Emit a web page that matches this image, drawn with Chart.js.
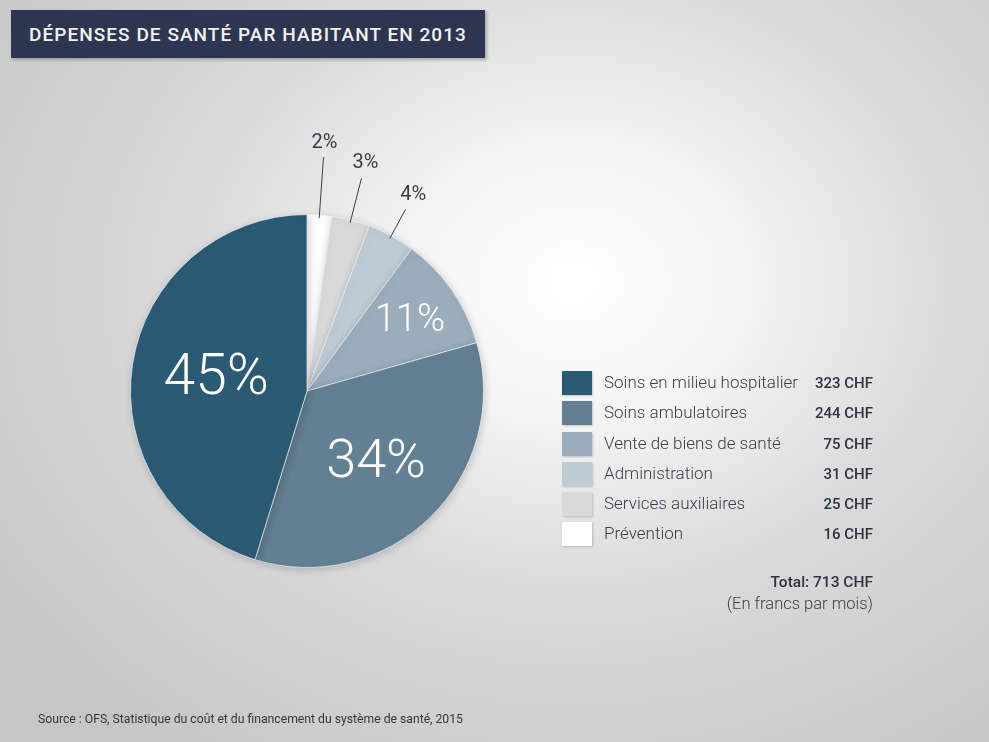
<!DOCTYPE html>
<html lang="fr">
<head>
<meta charset="utf-8">
<title>Dépenses de santé par habitant en 2013</title>
<script src="https://cdn.jsdelivr.net/npm/chart.js@4.4.1/dist/chart.umd.min.js"></script>
<style>
    html, body {
        margin: 0;
        padding: 0;
    }
    body {
        width: 989px;
        height: 742px;
        position: relative;
        overflow: hidden;
        font-family: Roboto, "Noto Sans", sans-serif;
        background: radial-gradient(ellipse 72% 78% at 58% 38%, #ffffff 0%, #f4f4f4 24%, #dbdbdb 52%, #c6c6c6 100%);
    }
    .title-bar {
        position: absolute;
        left: 11px;
        top: 10px;
        width: 474px;
        height: 48px;
        background: #2e3550;
        box-shadow: 2px 2px 3px rgba(0, 0, 0, 0.25);
    }
    .title-bar span {
        position: absolute;
        left: 18px;
        top: 13px;
        color: #f2f2f2;
        font-size: 19px;
        font-weight: 500;
        letter-spacing: 1.05px;
        white-space: nowrap;
    }
    #pieChart {
        position: absolute;
        left: 0;
        top: 0;
    }
    .legend {
        position: absolute;
        left: 562px;
        top: 371px;
        width: 311px;
    }
    .legend-row {
        position: relative;
        height: 30.3px;
    }
    .legend-swatch {
        position: absolute;
        left: 0;
        top: 0;
        width: 30px;
        height: 24px;
        box-shadow: 1px 1px 2px rgba(0, 0, 0, 0.2);
    }
    .legend-label {
        position: absolute;
        left: 42px;
        top: 1px;
        font-size: 17px;
        font-weight: 300;
        color: #3b3d48;
        white-space: nowrap;
    }
    .legend-value {
        position: absolute;
        right: 0;
        top: 3px;
        font-size: 15px;
        font-weight: 500;
        color: #2f3240;
        white-space: nowrap;
    }
    .total {
        position: absolute;
        right: 116px;
        top: 571px;
        text-align: right;
        color: #2f3240;
    }
    .total .sum {
        font-size: 15.5px;
        font-weight: 500;
        line-height: 22px;
    }
    .total .unit {
        font-size: 16.5px;
        font-weight: 300;
        color: #3b3d48;
        line-height: 22px;
    }
    .source {
        position: absolute;
        left: 38px;
        top: 712px;
        font-size: 12.2px;
        color: #333640;
        white-space: nowrap;
    }
</style>
</head>
<body>
<div class="title-bar"><span>DÉPENSES DE SANTÉ PAR HABITANT EN 2013</span></div>
<canvas id="pieChart" width="989" height="742"></canvas>
<div class="legend" id="legend"></div>
<div class="total">
    <div class="sum" id="totalText"></div>
    <div class="unit">(En francs par mois)</div>
</div>
<div class="source">Source : OFS, Statistique du coût et du financement du système de santé, 2015</div>

<script>
// Slices in clockwise order from 12 o'clock
const categories = [
    'Prévention',
    'Services auxiliaires',
    'Administration',
    'Vente de biens de santé',
    'Soins ambulatoires',
    'Soins en milieu hospitalier'
];
const amountsCHF = [16, 25, 31, 75, 244, 323];
const percentLabels = ['2%', '3%', '4%', '11%', '34%', '45%'];
const sliceColors = ['#ffffff', '#d9d9d9', '#bdcbd5', '#9badbb', '#637f93', '#2a5a74'];
const totalCHF = 713;

// Label placement per slice: inside (fraction of radius) or outside with a leader line
const labelStyle = [
    { outside: true, lineLength: 58, gap: 14, size: 20 },
    { outside: true, lineLength: 43, gap: 16, size: 20 },
    { outside: true, lineLength: 30, gap: 16, size: 20 },
    { outside: false, radius: 0.71, size: 38 },
    { outside: false, radius: 0.56, size: 54 },
    { outside: false, radius: 0.52, size: 57 }
];

// Percent labels and leader lines drawn on top of the arcs
const sliceLabels = {
    id: 'sliceLabels',
    afterDatasetsDraw(chart) {
        const ctx = chart.ctx;
        const arcs = chart.getDatasetMeta(0).data;
        arcs.forEach((arc, i) => {
            const { x, y, startAngle, endAngle, outerRadius } =
                arc.getProps(['x', 'y', 'startAngle', 'endAngle', 'outerRadius'], true);
            const mid = (startAngle + endAngle) / 2;
            const cos = Math.cos(mid);
            const sin = Math.sin(mid);
            const style = labelStyle[i];
            ctx.save();
            ctx.textAlign = 'center';
            ctx.textBaseline = 'middle';
            if (style.outside) {
                const r0 = outerRadius - 3;
                const r1 = outerRadius + style.lineLength;
                ctx.strokeStyle = '#3a3d47';
                ctx.lineWidth = 1;
                ctx.beginPath();
                ctx.moveTo(x + cos * r0, y + sin * r0);
                ctx.lineTo(x + cos * r1, y + sin * r1);
                ctx.stroke();
                const r2 = r1 + style.gap;
                ctx.fillStyle = '#3a3d47';
                ctx.font = '400 ' + style.size + 'px Roboto, sans-serif';
                ctx.fillText(percentLabels[i], x + cos * r2, y + sin * r2);
            } else {
                const r = outerRadius * style.radius;
                ctx.fillStyle = '#ffffff';
                ctx.font = '300 ' + style.size + 'px Roboto, sans-serif';
                ctx.fillText(percentLabels[i], x + cos * r, y + sin * r + 2);
            }
            ctx.restore();
        });
    }
};

// Soft shadow under the pie
const pieShadow = {
    id: 'pieShadow',
    beforeDatasetsDraw(chart) {
        const ctx = chart.ctx;
        ctx.save();
        ctx.shadowColor = 'rgba(0, 0, 0, 0.18)';
        ctx.shadowBlur = 8;
        ctx.shadowOffsetX = 1;
        ctx.shadowOffsetY = 2;
    },
    afterDatasetsDraw(chart) {
        chart.ctx.restore();
    }
};

new Chart(document.getElementById('pieChart').getContext('2d'), {
    type: 'pie',
    data: {
        labels: categories,
        datasets: [{
            data: amountsCHF,
            backgroundColor: sliceColors,
            borderColor: 'rgba(235, 240, 243, 0.7)',
            borderWidth: 1
        }]
    },
    options: {
        responsive: false,
        animation: false,
        rotation: 0,
        layout: {
            padding: { left: 130, right: 505, top: 214, bottom: 174 }
        },
        plugins: {
            legend: { display: false },
            tooltip: { enabled: false }
        }
    },
    plugins: [pieShadow, sliceLabels]
});

// Legend, largest item first
const legend = document.getElementById('legend');
categories.map((name, i) => i).reverse().forEach(i => {
    const row = document.createElement('div');
    row.className = 'legend-row';
    row.innerHTML = `
        <div class="legend-swatch" style="background:${sliceColors[i]}"></div>
        <div class="legend-label">${categories[i]}</div>
        <div class="legend-value">${amountsCHF[i]} CHF</div>
    `;
    legend.appendChild(row);
});
document.getElementById('totalText').textContent = `Total: ${totalCHF} CHF`;
</script>
</body>
</html>
